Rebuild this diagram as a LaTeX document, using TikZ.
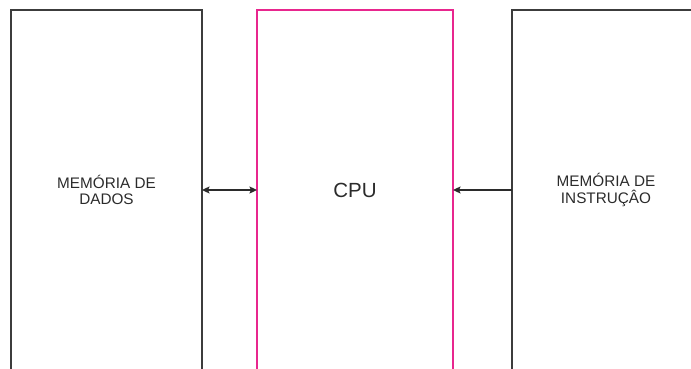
\documentclass[tikz,border=0pt]{standalone}
\usepackage{fontspec}
\setsansfont{Liberation Sans}
\usepackage{tikz}
\usetikzlibrary{arrows.meta,positioning}
\definecolor{BusDark}{HTML}{2B2B2B}
\definecolor{BoxGray}{HTML}{3C3C3C}
\definecolor{CpuPink}{HTML}{E8268E}
\tikzset{
  membox/.style={draw=BoxGray,line width=1.2pt,align=center,minimum height=360pt,inner sep=0pt,outer sep=0pt,font=\sffamily\fontsize{15.3}{16.8}\selectfont,text=BusDark},
  cpubox/.style={membox,draw=CpuPink,font=\sffamily\fontsize{20.5}{22}\selectfont},
  busarrow/.style={{Stealth[length=7.5pt,width=7pt,inset=1.5pt]}-{Stealth[length=7.5pt,width=7pt,inset=1.5pt]},line width=1.5pt,draw=BusDark},
  fetcharrow/.style={-{Stealth[length=7.5pt,width=7pt,inset=1.5pt]},line width=1.5pt,draw=BusDark}
}
\begin{document}
\begin{tikzpicture}[x=1pt,y=1pt,node distance=55pt]
\useasboundingbox (0,0) rectangle (691,368);
\clip (0,0) rectangle (691,368);
\node[membox,minimum width=191pt] (dados) at (106.5,178) {MEMÓRIA DE\\DADOS};
\node[cpubox,minimum width=196pt,right=55pt of dados] (cpu) {CPU};
\node[membox,minimum width=188pt,right=59pt of cpu] (instr) {MEMÓRIA DE\\INSTRUÇÂO};
\draw[busarrow] (dados.east) -- (cpu.west);
\draw[fetcharrow] (instr.west) -- (cpu.east);
\end{tikzpicture}
\end{document}
